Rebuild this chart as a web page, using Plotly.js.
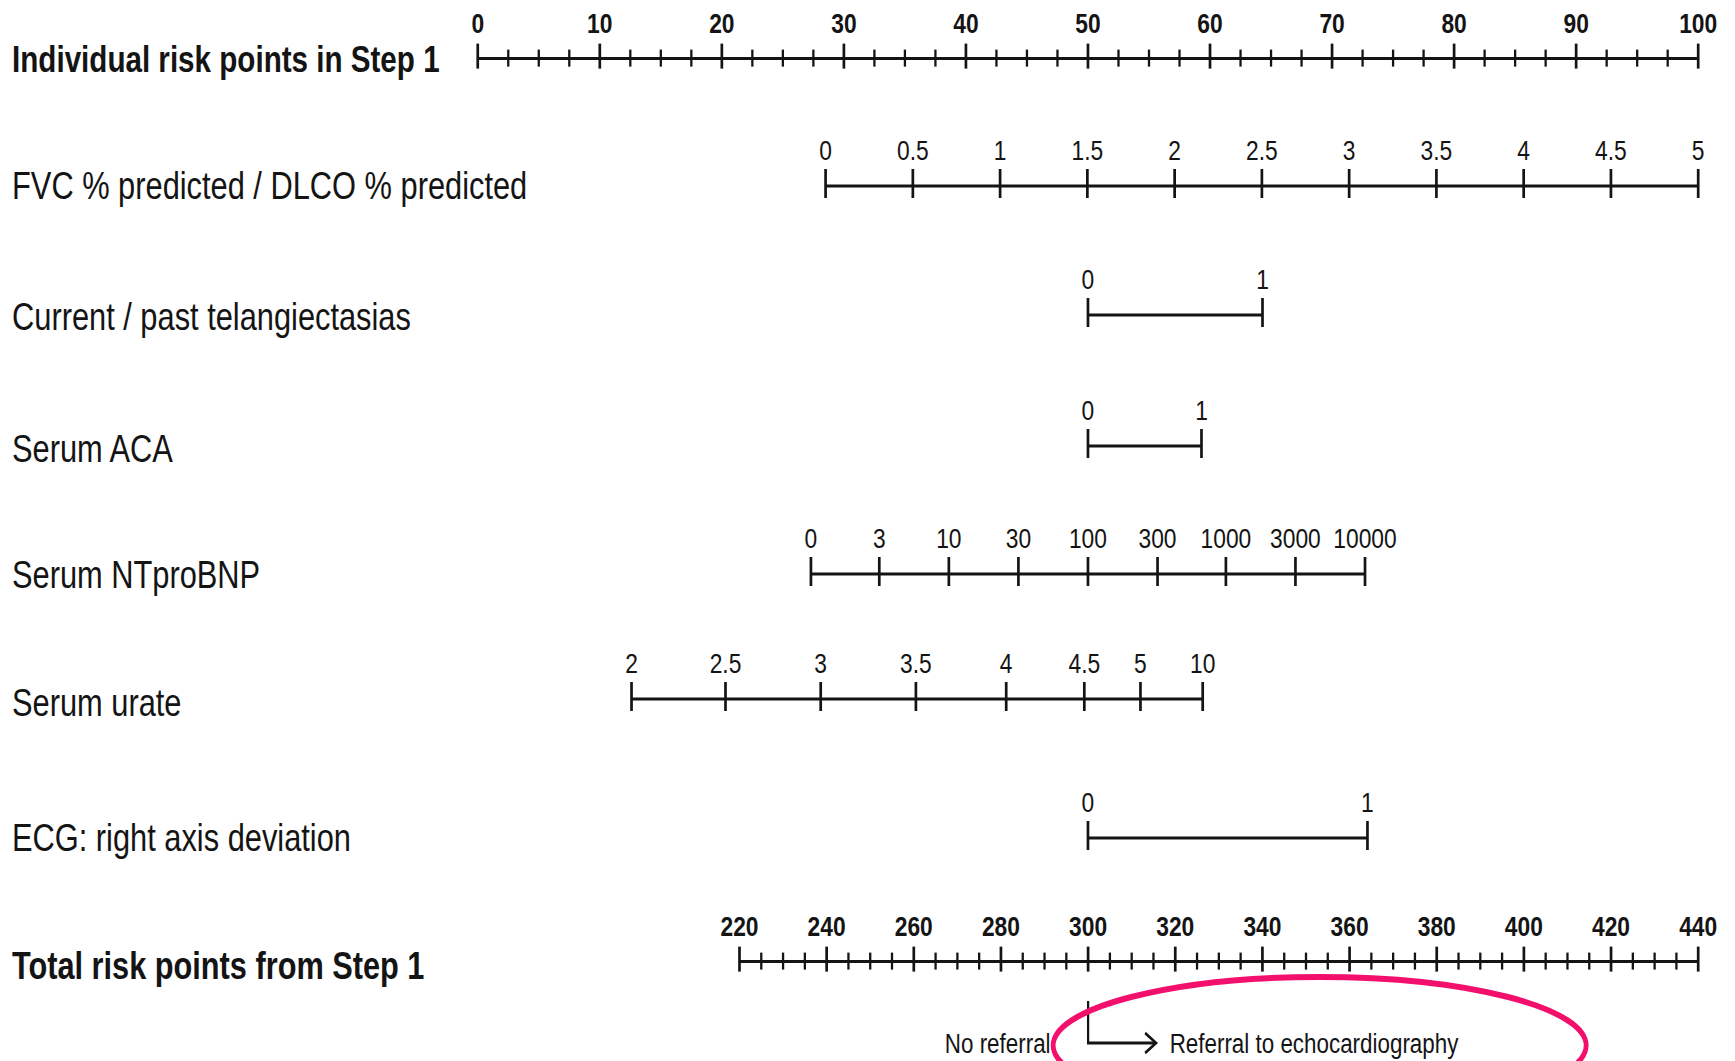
<!DOCTYPE html>
<html>
<head>
<meta charset="utf-8">
<script src="https://cdn.plot.ly/plotly-3.0.1.min.js"></script>
<style>
  html, body { margin: 0; padding: 0; overflow: hidden; background: #fff; width: 1735px; height: 1061px; }
  #chart { transform-origin: 0 0; }
</style>
</head>
<body>
<div id="chart"></div>
<script>
// ---------------- DATA ----------------
const rowLabels = [
  'Individual risk points in Step 1',
  'FVC % predicted / DLCO % predicted',
  'Current / past telangiectasias',
  'Serum ACA',
  'Serum NTproBNP',
  'Serum urate',
  'ECG: right axis deviation',
  'Total risk points from Step 1'
];

const pointsTickLabels = [0, 10, 20, 30, 40, 50, 60, 70, 80, 90, 100];

const fvcLabels = ['0', '0.5', '1', '1.5', '2', '2.5', '3', '3.5', '4', '4.5', '5'];
const fvcPoints = [28.5, 35.65, 42.8, 49.95, 57.1, 64.25, 71.4, 78.55, 85.7, 92.85, 100];

const telLabels = ['0', '1'];
const telPoints = [50, 64.3];

const acaLabels = ['0', '1'];
const acaPoints = [50, 59.3];

const ntLabels = ['0', '3', '10', '30', '100', '300', '1000', '3000', '10000'];
const ntPoints = [27.3, 32.9, 38.6, 44.3, 50, 55.7, 61.3, 67.0, 72.7];

const urateLabels = ['2', '2.5', '3', '3.5', '4', '4.5', '5', '10'];
const uratePoints = [12.6, 20.3, 28.1, 35.9, 43.3, 49.7, 54.3, 59.4];

const ecgLabels = ['0', '1'];
const ecgPoints = [50, 72.9];

const totalTickLabels = [220, 240, 260, 280, 300, 320, 340, 360, 380, 400, 420, 440];

const referralCutoff = 300;
const noReferralText = 'No referral';
const referralText = 'Referral to echocardiography';

// ---------------- LAYOUT CONSTANTS ----------------
const FULL_W = 1735, H = 1061, SQUEEZE = 0.8;
const W = FULL_W / SQUEEZE;
const FONT = 'Liberation Sans, Arial, Helvetica, sans-serif';
const INK = '#141414';
const PINK = '#f2106c';

const rowY = [58.6, 186, 315, 446, 574, 699, 838, 961.6];
const rowLabelShift = [2, 0, 2, 3, 1, 4, 0, 5];
const rowLabelSize = [37, 38.5, 38.5, 38.5, 38.5, 38.5, 38.5, 38.4];
const rowLabelBold = [true, false, false, false, false, false, false, true];
const labelDy = -33;

const pt0Px = 477.7, pt100Px = 1698;
const pxPerPoint = (pt100Px - pt0Px) / 100;
const xRange = [-pt0Px / pxPerPoint, (FULL_W - pt0Px) / pxPerPoint];

const tot220Px = 739.4, tot440Px = 1698;
const pxPerTotal = (tot440Px - tot220Px) / 220;
const x2Range = [220 - tot220Px / pxPerTotal, 220 + (FULL_W - tot220Px) / pxPerTotal];

const hLineW = 3, vLineW = 2.7 / SQUEEZE;

const traces = [];

function addScale(positions, labels, y, opts) {
  const xa = opts.xaxis || 'x';
  traces.push({
    type: 'scatter', mode: 'lines', xaxis: xa, yaxis: 'y',
    x: [positions[0], positions[positions.length - 1]], y: [y, y],
    line: { color: INK, width: hLineW }, hoverinfo: 'skip', showlegend: false
  });
  const tx = [], ty = [];
  positions.forEach(p => { tx.push(p, p, null); ty.push(y + opts.up, y + opts.down, null); });
  traces.push({
    type: 'scatter', mode: 'lines', xaxis: xa, yaxis: 'y', x: tx, y: ty,
    line: { color: INK, width: vLineW }, hoverinfo: 'skip', showlegend: false
  });
  if (opts.minor) {
    const mx = [], my = [];
    opts.minor.forEach(p => { mx.push(p, p, null); my.push(y + opts.minorUp, y + opts.minorDown, null); });
    traces.push({
      type: 'scatter', mode: 'lines', xaxis: xa, yaxis: 'y', x: mx, y: my,
      line: { color: INK, width: vLineW * 0.85 }, hoverinfo: 'skip', showlegend: false
    });
  }
  traces.push({
    type: 'scatter', mode: 'text', xaxis: xa, yaxis: 'y',
    x: positions, y: positions.map(() => y + labelDy), text: labels.map(String),
    textposition: 'middle center',
    textfont: { family: FONT, size: 28.5, color: INK, weight: opts.bold ? 'bold' : 'normal' },
    hoverinfo: 'skip', showlegend: false
  });
}

const pointsMinor = [];
for (let v = 0; v <= 100; v += 2.5) if (v % 10 !== 0) pointsMinor.push(v);
const totalMinor = [];
for (let v = 220; v <= 440; v += 5) if (v % 20 !== 0) totalMinor.push(v);

addScale(pointsTickLabels, pointsTickLabels, rowY[0],
  { up: -15, down: 10, minor: pointsMinor, minorUp: -9, minorDown: 8, bold: true });
addScale(fvcPoints, fvcLabels, rowY[1], { up: -17, down: 12 });
addScale(telPoints, telLabels, rowY[2], { up: -17, down: 12 });
addScale(acaPoints, acaLabels, rowY[3], { up: -17, down: 12 });
addScale(ntPoints, ntLabels, rowY[4], { up: -17, down: 12 });
addScale(uratePoints, urateLabels, rowY[5], { up: -17, down: 12 });
addScale(ecgPoints, ecgLabels, rowY[6], { up: -17, down: 12 });
addScale(totalTickLabels, totalTickLabels, rowY[7],
  { xaxis: 'x2', up: -15, down: 10, minor: totalMinor, minorUp: -9, minorDown: 8, bold: true });

const annotations = rowLabels.map((t, i) => ({
  xref: 'paper', yref: 'y', x: 10 / FULL_W, y: rowY[i] - 1 + rowLabelShift[i],
  xanchor: 'left', yanchor: 'middle', showarrow: false, text: t,
  font: { family: FONT, size: rowLabelSize[i], color: INK, weight: rowLabelBold[i] ? 'bold' : 'normal' }
}));

const arrowTopY = 1001, arrowY = 1043;
const arrowLen = 68 / pxPerTotal;
const headLen = 11 / pxPerTotal, headHalf = 10;
const arrowEnd = referralCutoff + arrowLen;

annotations.push({
  xref: 'x2', yref: 'y', x: referralCutoff, y: arrowY, xanchor: 'right', yanchor: 'middle',
  xshift: -36 / SQUEEZE, showarrow: false, text: noReferralText,
  font: { family: FONT, size: 28, color: INK }
});
annotations.push({
  xref: 'x2', yref: 'y', x: referralCutoff, y: arrowY, xanchor: 'left', yanchor: 'middle',
  xshift: 80 / SQUEEZE, showarrow: false, text: referralText,
  font: { family: FONT, size: 28, color: INK }
});

const shapes = [
  {
    type: 'path', xref: 'x2', yref: 'y', layer: 'above',
    path: `M ${referralCutoff},${arrowTopY} L ${referralCutoff},${arrowY} L ${arrowEnd},${arrowY}`,
    line: { color: INK, width: 2.8 }
  },
  {
    type: 'path', xref: 'x2', yref: 'y', layer: 'above',
    path: `M ${arrowEnd - headLen},${arrowY - headHalf} L ${arrowEnd},${arrowY} L ${arrowEnd - headLen},${arrowY + headHalf}`,
    line: { color: INK, width: 2.8 }
  },
  {
    type: 'circle', xref: 'paper', yref: 'y', layer: 'above',
    x0: 1053 / FULL_W, x1: 1586 / FULL_W, y0: 977, y1: 1114,
    line: { color: PINK, width: 6 }
  }
];

const layout = {
  width: W, height: H,
  margin: { l: 0, r: 0, t: 0, b: 0, pad: 0 },
  paper_bgcolor: '#ffffff', plot_bgcolor: '#ffffff',
  showlegend: false,
  xaxis: { range: xRange, visible: false, fixedrange: true },
  xaxis2: { range: x2Range, visible: false, overlaying: 'x', fixedrange: true },
  yaxis: { range: [H, 0], visible: false, fixedrange: true },
  annotations: annotations,
  shapes: shapes
};

const el = document.getElementById('chart');
el.style.transform = `scaleX(${SQUEEZE})`;
Plotly.newPlot(el, traces, layout, { staticPlot: true, displayModeBar: false, responsive: false });
</script>
</body>
</html>
